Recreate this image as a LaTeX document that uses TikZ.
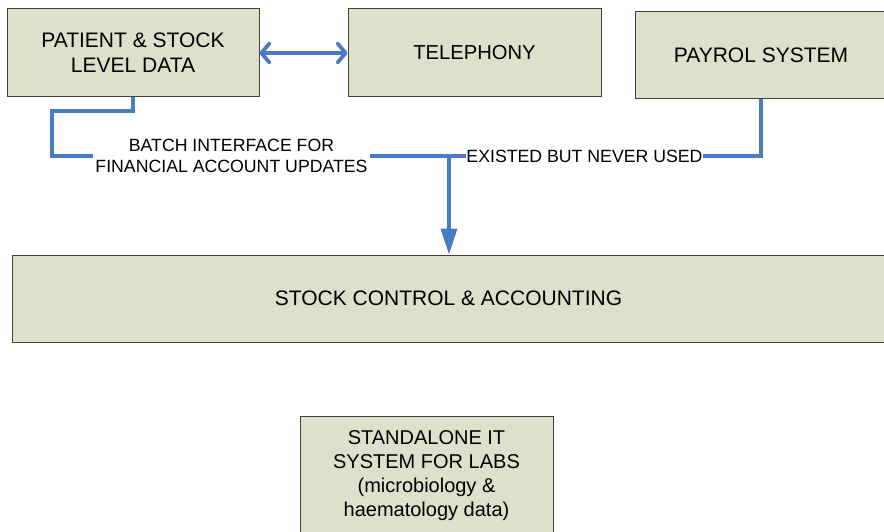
\documentclass[tikz,border=0pt]{standalone}
\usepackage{fontspec}
\setmainfont{Liberation Sans}
\usetikzlibrary{arrows.meta,positioning}

\definecolor{boxfill}{HTML}{DDE0CB}
\definecolor{boxline}{HTML}{404040}
\definecolor{linkblue}{HTML}{4A7BC4}

\tikzset{
  sysbox/.style={draw=boxline,fill=boxfill,line width=1pt,align=center,
    inner sep=0pt,font=\fontsize{21}{25}\selectfont},
  link/.style={draw=linkblue,line width=3.8pt},
  lbl/.style={fill=white,align=center,inner xsep=2pt,inner ysep=1pt,
    font=\fontsize{17.7}{20.5}\selectfont},
}

\begin{document}
\begin{tikzpicture}[x=1pt,y=1pt]
    \useasboundingbox (0,0) rectangle (884,-532);

    % systems
    \node[sysbox,minimum width=252pt,minimum height=88pt] (pat) at (133,-53) {PATIENT \& STOCK\\LEVEL DATA};
    \node[sysbox,minimum width=253pt,minimum height=88pt,font=\fontsize{20.2}{24}\selectfont] (tel) at (474.5,-53) {TELEPHONY};
    \node[sysbox,minimum width=252pt,minimum height=87pt] (pay) at (761,-55.5) {PAYROL SYSTEM};
    \node[sysbox,minimum width=873pt,minimum height=87pt] (stock) at (448.5,-298.5) {STOCK CONTROL \& ACCOUNTING};
    \node[sysbox,minimum width=253pt,minimum height=120pt,font=\fontsize{20}{24}\selectfont] (labs) at (426.5,-476) {STANDALONE IT\\SYSTEM FOR LABS\\(microbiology \&\\haematology data)};

    % interface labels
    \node[lbl] (batch) at (231.5,-156) {BATCH INTERFACE FOR\\FINANCIAL ACCOUNT UPDATES};
    \node[lbl,inner xsep=0.5pt] (used) at (584.5,-156) {EXISTED BUT NEVER USED};
    \coordinate (jn) at (449,-156);

    % links
    \draw[link,line cap=round,line join=round,{Straight Barb[length=8pt,width=19pt,round]}-{Straight Barb[length=8pt,width=19pt,round]}] (pat.east) -- (tel.west);
    \draw[link] (pat.south) |- (52,-111) |- (batch.west);
    \draw[link] (batch.east) -- (used.west);
    \draw[link] (pay.south) |- (used.east);
    \draw[link,-{Triangle[length=26pt,width=16pt]}] (jn) -- (jn |- stock.north);
\end{tikzpicture}
\end{document}
